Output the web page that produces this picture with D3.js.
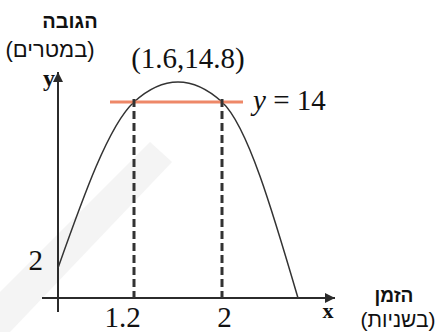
<!DOCTYPE html>
<html lang="he">
<head>
<meta charset="UTF-8">
<title>height</title>
<script src="https://cdn.jsdelivr.net/npm/d3@7"></script>
<style>
    body { margin: 0; background: #fff; }
    svg { display: block; }
</style>
</head>
<body>
<div id="chart"></div>
<script>
var width = 438, height = 332;

// points of the path (time in seconds, height in meters)
var pathT = [0, 1.2, 1.6, 2, 3.32];
var pathH = [2, 14, 14.8, 14, 0];
var xTicks = [1.2, 2];
var yTicks = [2];
var lineH = 14;
var peak = [1.6, 14.8];

var serif = "'Liberation Serif', 'Times New Roman', serif";
var heb = "'Liberation Sans', Arial, sans-serif";
var ink = "#2b2b2b";

var svg = d3.select("#chart").append("svg")
    .attr("width", width)
    .attr("height", height);

// faint watermark band
svg.append("path")
    .attr("d", "M0,292L150,142L172,162L10,332L0,332Z")
    .attr("fill", "#f4f4f4");

// schematic drawing, so the scales are not uniform
var xScale = d3.scaleLinear()
    .domain([0, 1.2, 1.6, 2, 3.32])
    .range([58, 134, 178, 222, 298]);
var yScale = d3.scaleLinear()
    .domain([0, 2, 14, 14.8])
    .range([298, 268, 102, 82]);

// arrow head
svg.append("defs").append("marker")
    .attr("id", "arr")
    .attr("viewBox", "0 0 10 10")
    .attr("refX", 10).attr("refY", 5)
    .attr("markerWidth", 7).attr("markerHeight", 5)
    .attr("markerUnits", "strokeWidth")
    .attr("orient", "auto")
    .append("path")
    .attr("d", "M0,0L10,5L0,10z")
    .attr("fill", ink);

// axes lines
svg.append("line")
    .attr("x1", xScale(0) - 16).attr("x2", 335)
    .attr("y1", yScale(0)).attr("y2", yScale(0))
    .attr("stroke", ink).attr("stroke-width", 2)
    .attr("marker-end", "url(#arr)");
svg.append("line")
    .attr("x1", xScale(0)).attr("x2", xScale(0))
    .attr("y1", yScale(0) + 14).attr("y2", 72)
    .attr("stroke", ink).attr("stroke-width", 2)
    .attr("marker-end", "url(#arr)");

// tick labels
var gx = svg.append("g")
    .attr("transform", "translate(0," + yScale(0) + ")")
    .call(d3.axisBottom(xScale).tickValues(xTicks).tickSize(0).tickPadding(8).tickFormat(d3.format("")));
gx.select(".domain").remove();
gx.selectAll("text")
    .attr("font-family", serif).attr("font-size", 29).attr("fill", "#111")
    .attr("dx", function (d, i) { return i == 0 ? -12 : 2; });

var gy = svg.append("g")
    .attr("transform", "translate(" + xScale(0) + ",0)")
    .call(d3.axisLeft(yScale).tickValues(yTicks).tickSize(0).tickPadding(15));
gy.select(".domain").remove();
gy.selectAll("text")
    .attr("font-family", serif).attr("font-size", 29).attr("fill", "#111")
    .attr("dy", "0.05em");

// the curve
var line = d3.line()
    .x(function (d) { return xScale(d[0]); })
    .y(function (d) { return yScale(d[1]); })
    .curve(d3.curveMonotoneX);
svg.append("path")
    .datum(d3.zip(pathT, pathH))
    .attr("d", line)
    .attr("fill", "none")
    .attr("stroke", "#333")
    .attr("stroke-width", 1.5);

// horizontal line y = 14
svg.append("line")
    .attr("x1", xScale(xTicks[0]) - 24).attr("x2", xScale(xTicks[1]) + 21)
    .attr("y1", yScale(lineH)).attr("y2", yScale(lineH))
    .attr("stroke", "#ee8868").attr("stroke-width", 3);

// dashed drops
svg.selectAll(".drop")
    .data(xTicks)
    .enter()
    .append("line")
    .attr("class", "drop")
    .attr("x1", function (d) { return xScale(d); })
    .attr("x2", function (d) { return xScale(d); })
    .attr("y1", yScale(lineH) - 3)
    .attr("y2", yScale(0))
    .attr("stroke", "#333")
    .attr("stroke-width", 3)
    .attr("stroke-dasharray", "8,4");

// labels
svg.append("text")
    .attr("x", xScale(peak[0]) + 10).attr("y", 68)
    .attr("text-anchor", "middle")
    .attr("font-family", serif).attr("font-size", 29).attr("fill", "#111")
    .text("(" + peak[0] + "," + peak[1] + ")");

var eq = svg.append("text")
    .attr("x", 253).attr("y", 110)
    .attr("font-family", serif).attr("font-size", 29).attr("fill", "#111");
eq.append("tspan").attr("font-style", "italic").text("y");
eq.append("tspan").text(" = " + lineH);

svg.append("text")
    .attr("x", 49).attr("y", 86)
    .attr("text-anchor", "middle")
    .attr("font-family", serif).attr("font-size", 24).attr("font-weight", "bold").attr("fill", "#111")
    .text("y");
svg.append("text")
    .attr("x", 328).attr("y", 318)
    .attr("text-anchor", "middle")
    .attr("font-family", serif).attr("font-size", 22).attr("font-weight", "bold").attr("fill", "#111")
    .text("x");

// hebrew axis titles
svg.append("text")
    .attr("x", 70).attr("y", 28)
    .attr("direction", "rtl").attr("text-anchor", "middle")
    .attr("font-family", heb).attr("font-size", 20).attr("font-weight", "bold").attr("fill", "#111")
    .text("הגובה");
svg.append("text")
    .attr("x", 50).attr("y", 57)
    .attr("direction", "rtl").attr("text-anchor", "middle")
    .attr("font-family", heb).attr("font-size", 22).attr("fill", "#111")
    .text("(במטרים)");
svg.append("text")
    .attr("x", 394).attr("y", 302)
    .attr("direction", "rtl").attr("text-anchor", "middle")
    .attr("font-family", heb).attr("font-size", 19).attr("font-weight", "bold").attr("fill", "#111")
    .text("הזמן");
svg.append("text")
    .attr("x", 398).attr("y", 327)
    .attr("direction", "rtl").attr("text-anchor", "middle")
    .attr("font-family", heb).attr("font-size", 21).attr("fill", "#111")
    .text("(בשניות)");
</script>
</body>
</html>
